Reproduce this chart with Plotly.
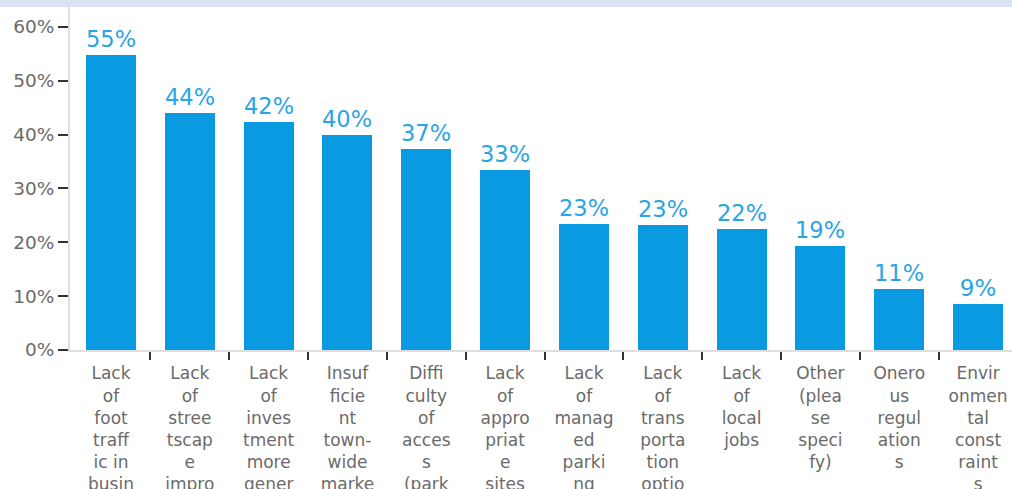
import plotly.graph_objects as go

categories = [
    "Lack<br>of<br>foot<br>traff<br>ic in<br>busin<br>ess<br>distr<br>ict",
    "Lack<br>of<br>stree<br>tscap<br>e<br>impro<br>vemen<br>ts",
    "Lack<br>of<br>inves<br>tment<br>more<br>gener<br>ally",
    "Insuf<br>ficie<br>nt<br>town-<br>wide<br>marke<br>ting",
    "Diffi<br>culty<br>of<br>acces<br>s<br>(park<br>ing)",
    "Lack<br>of<br>appro<br>priat<br>e<br>sites",
    "Lack<br>of<br>manag<br>ed<br>parki<br>ng",
    "Lack<br>of<br>trans<br>porta<br>tion<br>optio<br>ns",
    "Lack<br>of<br>local<br>jobs",
    "Other<br>(plea<br>se<br>speci<br>fy)",
    "Onero<br>us<br>regul<br>ation<br>s",
    "Envir<br>onmen<br>tal<br>const<br>raint<br>s",
]
values = [54.8, 44.0, 42.4, 40.0, 37.3, 33.4, 23.4, 23.2, 22.4, 19.4, 11.3, 8.6]
y_ticks = [0, 10, 20, 30, 40, 50, 60]
y_tick_labels = ["0%", "10%", "20%", "30%", "40%", "50%", "60%"]

xs = list(range(len(categories)))
FONT = "DejaVu Sans"

fig = go.Figure()
fig.add_trace(go.Bar(
    x=xs,
    y=values,
    width=0.634,
    marker=dict(color="#0a9ae2", line=dict(width=0)),
    texttemplate="%{y:.0f}%",
    textposition="outside",
    textfont=dict(family=FONT, size=23, color="#2aa5e4"),
    cliponaxis=False,
    hoverinfo="skip",
))

fig.update_layout(
    width=1012,
    height=489,
    margin=dict(l=70, r=0, t=7, b=139),
    paper_bgcolor="white",
    plot_bgcolor="white",
    showlegend=False,
    bargap=0,
    shapes=[dict(
        type="rect", xref="paper", yref="paper",
        x0=-0.08, x1=1.0, y0=1.0, y1=1.03,
        fillcolor="#dae4f1", line=dict(width=0), layer="below",
    )],
)

fig.update_xaxes(
    range=[-0.52, 11.43],
    tickmode="array",
    tickvals=xs,
    ticktext=categories,
    ticks="",
    ticklabelstandoff=7,
    tickfont=dict(family=FONT, size=17, color="#6a6a6a"),
    showline=True,
    linecolor="#dedede",
    linewidth=2,
    showgrid=False,
    zeroline=False,
    automargin=False,
    minor=dict(
        tickmode="array",
        tickvals=[i + 0.5 for i in xs[:-1]],
        ticks="outside",
        ticklen=8,
        tickwidth=2,
        tickcolor="#333333",
        showgrid=False,
    ),
)

fig.update_yaxes(
    range=[0, 63.7],
    tickmode="array",
    tickvals=y_ticks,
    ticktext=y_tick_labels,
    ticks="outside",
    ticklen=10,
    tickwidth=2,
    tickcolor="#333333",
    tickfont=dict(family=FONT, size=18.5, color="#6a6a6a"),
    showline=True,
    linecolor="#dedede",
    linewidth=2,
    showgrid=False,
    zeroline=False,
    automargin=False,
)

fig.write_html(
    "out.html",
    config={"displayModeBar": False},
    post_script="document.body.style.margin='0';document.body.style.overflow='hidden';",
)
